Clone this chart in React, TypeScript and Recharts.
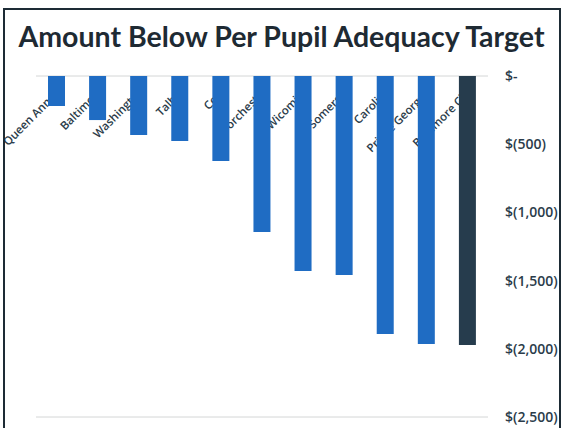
import { BarChart, Bar, XAxis, YAxis, CartesianGrid, Cell } from "recharts";

const counties = [
  "Queen Anne's",
  "Baltimore",
  "Washington",
  "Talbot",
  "Cecil",
  "Dorchester",
  "Wicomico",
  "Somerset",
  "Caroline",
  "Prince George's",
  "Baltimore City",
];
const gap = [-220, -323, -433, -477, -623, -1144, -1430, -1459, -1892, -1965, -1972];
const yTicks = [0, -500, -1000, -1500, -2000, -2500];

const BLUE = "#1f6cc3";
const DARK = "#263c4d";
const TEXT = "#2b3c4a";

const data = counties.map((name, i) => ({ name, gap: gap[i] }));

const fmtMoney = (v: number) =>
  v === 0 ? "$-" : `$(${Math.abs(v).toLocaleString("en-US")})`;

const CountyTick = (props: any) => {
  const { x, payload } = props;
  const ax = x + 6;
  const ay = 92;
  return (
    <text
      x={ax}
      y={ay}
      transform={`rotate(-45 ${ax} ${ay})`}
      textAnchor="end"
      fontFamily="'Open Sans', sans-serif"
      fontWeight={600}
      fontSize={11.5}
      fill={TEXT}
    >
      {payload.value}
    </text>
  );
};

const MoneyTick = (props: any) => {
  const { y, payload } = props;
  return (
    <text
      x={505}
      y={y + 5}
      textAnchor="start"
      fontFamily="'Open Sans', sans-serif"
      fontWeight={600}
      fontSize={14}
      fill={TEXT}
    >
      {fmtMoney(payload.value)}
    </text>
  );
};

// both layers share this layout so the labels sit under the bars
const Layer = ({ labels }: { labels: boolean }) => (
  <BarChart
    width={563}
    height={428}
    data={data}
    margin={{ top: 66, right: 5, bottom: 11, left: 36 }}
    barCategoryGap={12}
  >
    {!labels && <CartesianGrid vertical={false} stroke="#d4d6d6" strokeWidth={1} />}
    <XAxis
      dataKey="name"
      orientation="top"
      axisLine={false}
      tickLine={false}
      interval={0}
      tick={labels ? <CountyTick /> : false}
      height={10}
    />
    <YAxis
      yAxisId="left"
      orientation="left"
      width={0}
      domain={[-2500, 0]}
      ticks={yTicks}
      tick={false}
      tickLine={false}
      axisLine={labels ? false : { stroke: "#d8dadb", strokeDasharray: "3 3" }}
    />
    <YAxis
      yAxisId="right"
      orientation="right"
      width={70}
      domain={[-2500, 0]}
      ticks={yTicks}
      axisLine={false}
      tickLine={false}
      tick={labels ? false : <MoneyTick />}
    />
    <Bar dataKey="gap" yAxisId="right" barSize={17} isAnimationActive={false}>
      {data.map((d, i) => (
        <Cell
          key={d.name}
          fill={labels ? "transparent" : i === data.length - 1 ? DARK : BLUE}
        />
      ))}
    </Bar>
  </BarChart>
);

export default function App() {
  return (
    <div
      style={{
        position: "absolute",
        left: 0,
        top: 0,
        width: 563,
        height: 428,
        background: "#fff",
        overflow: "hidden",
      }}
    >
      <div style={{ position: "absolute", left: 0, top: 0 }}>
        <Layer labels={true} />
      </div>
      <div style={{ position: "absolute", left: 0, top: 0 }}>
        <Layer labels={false} />
      </div>
      {/* scanned frame */}
      <div
        style={{
          position: "absolute",
          left: 3,
          top: 8,
          width: 554,
          height: 440,
          border: "2px solid #1d2b35",
        }}
      />
      <div
        style={{
          position: "absolute",
          left: 0,
          top: 19,
          width: 563,
          textAlign: "center",
          fontFamily: "Lato, sans-serif",
          fontWeight: 700,
          fontSize: 28.5,
          color: "#1e2a33",
          whiteSpace: "nowrap",
        }}
      >
        Amount Below Per Pupil Adequacy Target
      </div>
    </div>
  );
}
